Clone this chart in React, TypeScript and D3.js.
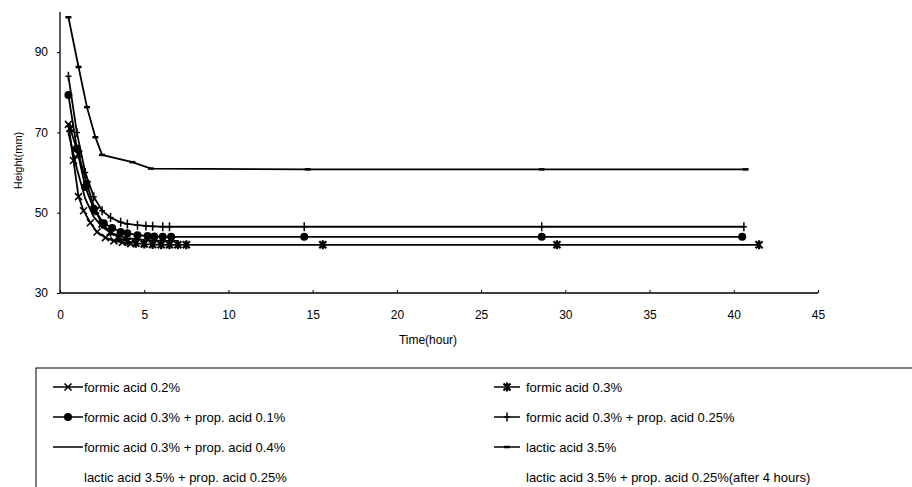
import { useEffect, useRef } from "react";
import * as d3 from "d3";

// time (hour), height (mm)
const formic02 = [
  [0.5, 72], [0.8, 63], [1.1, 54], [1.4, 50.5], [1.8, 47.5], [2.2, 45.2],
  [2.7, 43.8], [3.2, 43], [3.7, 42.6], [4.2, 42.3],
];
const formic03 = [
  [0.6, 71], [1.1, 64.6], [1.6, 57], [2.1, 50.5], [2.5, 47.2], [3.0, 45.2],
  [3.5, 43.8], [4.0, 42.9], [4.5, 42.4], [5.0, 42.2], [5.5, 42.1], [6.0, 42],
  [6.5, 42], [7.0, 42], [7.5, 42], [15.6, 42], [29.5, 42], [41.5, 42],
];
const formic03prop01 = [
  [0.5, 79.3], [1.0, 66], [1.5, 56.4], [2.0, 51], [2.6, 47.4], [3.1, 46.2],
  [3.6, 45.2], [4.0, 44.9], [4.6, 44.4], [5.2, 44.2], [5.6, 44.1], [6.1, 44],
  [6.6, 44], [14.5, 44], [28.6, 44], [40.5, 44],
];
const formic03prop025 = [
  [0.5, 84], [1.0, 70], [1.5, 60], [2.0, 54], [2.5, 50.5], [3.0, 48.8],
  [3.6, 47.6], [4.0, 47.2], [4.6, 46.9], [5.1, 46.7], [5.5, 46.6], [6.1, 46.5],
  [6.5, 46.5], [14.5, 46.5], [28.6, 46.5], [40.6, 46.5],
];
const formic03prop04 = [
  [0.5, 70], [1.0, 61], [1.5, 53.5], [2.0, 49], [2.5, 46.5], [3.0, 45],
  [4.0, 43.6], [5.0, 43.2], [6.0, 43], [7.0, 43],
];
const lactic35 = [
  [0.5, 98.7], [1.1, 86.3], [1.6, 76.3], [2.1, 68.8], [2.5, 64.4], [4.3, 62.6],
  [5.4, 61], [14.7, 60.8], [28.6, 60.8], [40.7, 60.8],
];

const series = [
  { name: "formic acid 0.2%", data: formic02, marker: "x" },
  { name: "formic acid 0.3%", data: formic03, marker: "star" },
  { name: "formic acid 0.3% + prop. acid 0.1%", data: formic03prop01, marker: "circle" },
  { name: "formic acid 0.3% + prop. acid 0.25%", data: formic03prop025, marker: "plus" },
  { name: "formic acid 0.3% + prop. acid 0.4%", data: formic03prop04, marker: "none" },
  { name: "lactic acid 3.5%", data: lactic35, marker: "dash" },
  { name: "lactic acid 3.5% + prop. acid 0.25%", data: [], marker: "blank" },
  { name: "lactic acid 3.5% + prop. acid 0.25%(after 4 hours)", data: [], marker: "blank" },
];

const xTicks = [0, 5, 10, 15, 20, 25, 30, 35, 40, 45];
const yTicks = [30, 50, 70, 90];

const FONT = "'Liberation Sans', Arial, sans-serif";

function drawMarker(g: any, type: string, x: number, y: number) {
  if (type === "x") {
    g.append("path")
      .attr("d", `M${x - 3.5},${y - 3.5}L${x + 3.5},${y + 3.5}M${x - 3.5},${y + 3.5}L${x + 3.5},${y - 3.5}`)
      .attr("stroke", "#000").attr("stroke-width", 1.6);
  } else if (type === "star") {
    g.append("path")
      .attr("d", `M${x - 3.5},${y - 3.5}L${x + 3.5},${y + 3.5}M${x - 3.5},${y + 3.5}L${x + 3.5},${y - 3.5}M${x},${y - 4.5}L${x},${y + 4.5}`)
      .attr("stroke", "#000").attr("stroke-width", 2.2);
  } else if (type === "circle") {
    g.append("circle").attr("cx", x).attr("cy", y).attr("r", 4).attr("fill", "#000");
  } else if (type === "plus") {
    g.append("path")
      .attr("d", `M${x},${y - 4.5}L${x},${y + 4.5}M${x - 3},${y}L${x + 3},${y}`)
      .attr("stroke", "#000").attr("stroke-width", 1.5);
  } else if (type === "dash") {
    g.append("path")
      .attr("d", `M${x - 3},${y}L${x + 3},${y}`)
      .attr("stroke", "#000").attr("stroke-width", 2.5);
  }
}

const App = () => {
  const ref = useRef<SVGSVGElement>(null);

  useEffect(() => {
    const width = 912, height = 487;
    const svg = d3.select(ref.current);
    svg.selectAll("*").remove();

    const x = d3.scaleLinear().domain([0, 45]).range([60, 818]);
    const y = d3.scaleLinear().domain([30, 100]).range([293, 12]);

    svg.append("rect").attr("width", width).attr("height", height).attr("fill", "#fff");

    // y axis
    const yAxis = svg.append("g")
      .attr("transform", `translate(${x(0)},0)`)
      .call(d3.axisLeft(y).tickValues(yTicks).tickSize(3).tickPadding(9));
    yAxis.select(".domain").attr("d", `M0,${y(100)}V${y(30)}`).attr("stroke-width", 1.3);
    yAxis.selectAll("text").attr("font-family", FONT).attr("font-size", 12).attr("fill", "#000");

    // x axis
    const xAxis = svg.append("g")
      .attr("transform", `translate(0,${y(30)})`)
      .call(d3.axisBottom(x).tickValues(xTicks).tickSize(-3).tickPadding(17));
    xAxis.select(".domain").attr("d", `M${x(0)},0H${x(45)}`).attr("stroke-width", 1.3);
    xAxis.selectAll("text").attr("font-family", FONT).attr("font-size", 12).attr("fill", "#000");

    svg.append("text")
      .attr("transform", `translate(22,${y(63)}) rotate(-90)`)
      .attr("text-anchor", "middle")
      .attr("font-family", FONT).attr("font-size", 11)
      .text("Height(mm)");
    svg.append("text")
      .attr("x", 428).attr("y", 344)
      .attr("text-anchor", "middle")
      .attr("font-family", FONT).attr("font-size", 12)
      .text("Time(hour)");

    const line = d3.line<number[]>().x(d => x(d[0])).y(d => y(d[1]));
    const plot = svg.append("g");
    series.forEach(s => {
      if (!s.data.length) return;
      plot.append("path")
        .datum(s.data)
        .attr("fill", "none")
        .attr("stroke", "#000")
        .attr("stroke-width", 1.8)
        .attr("d", line);
      s.data.forEach(d => drawMarker(plot, s.marker, x(d[0]), y(d[1])));
    });

    // legend
    const legend = svg.append("g");
    legend.append("rect")
      .attr("x", 36).attr("y", 368).attr("width", 900).attr("height", 200)
      .attr("fill", "none").attr("stroke", "#000").attr("stroke-width", 1);
    series.forEach((s, i) => {
      const col = i % 2, row = Math.floor(i / 2);
      const lx = col === 0 ? 53 : 494;
      const sw = col === 0 ? 30 : 26;
      const ly = 387 + row * 30;
      if (s.marker !== "blank") {
        legend.append("line")
          .attr("x1", lx).attr("x2", lx + sw).attr("y1", ly).attr("y2", ly)
          .attr("stroke", "#000").attr("stroke-width", 1.5);
        drawMarker(legend, s.marker, lx + sw / 2, ly);
      }
      legend.append("text")
        .attr("x", lx + sw + (col === 0 ? 1 : 6)).attr("y", ly)
        .attr("dy", "0.35em")
        .attr("font-family", FONT).attr("font-size", 13)
        .text(s.name);
    });
  }, []);

  return (
    <svg ref={ref} width={912} height={487}
      style={{ position: "absolute", left: 0, top: 0, display: "block" }} />
  );
};

export default App;
